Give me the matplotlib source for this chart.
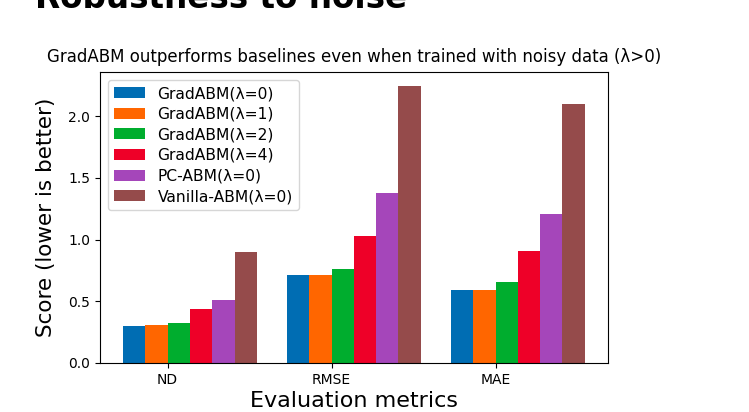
import matplotlib
matplotlib.use("Agg")
import matplotlib.pyplot as plt
import numpy as np

metrics = ["ND", "RMSE", "MAE"]
series_names = ["GradABM(λ=0)", "GradABM(λ=1)", "GradABM(λ=2)", "GradABM(λ=4)",
                "PC-ABM(λ=0)", "Vanilla-ABM(λ=0)"]
grad0 = [0.30, 0.71, 0.595]
grad1 = [0.31, 0.71, 0.595]
grad2 = [0.325, 0.76, 0.66]
grad4 = [0.435, 1.03, 0.91]
pcabm = [0.51, 1.375, 1.21]
vanilla = [0.90, 2.245, 2.10]
series_values = [grad0, grad1, grad2, grad4, pcabm, vanilla]
colors = ['#006db3', '#ff6600', '#00ad2e', '#ee0028', '#a546ba', '#954b4b']

fig = plt.figure(figsize=(7.49, 4.12), dpi=100)
ax = fig.add_axes([0.1335, 0.119, 0.678, 0.706])

x = np.arange(len(metrics))
w = 0.136
for i, (name, vals) in enumerate(zip(series_names, series_values)):
    ax.bar(x + (i - 1.5) * w, vals, w, label=name, color=colors[i])

ax.set_xticks(x)
ax.set_xticklabels(metrics, fontsize=10)
ax.tick_params(axis='y', labelsize=10)
ax.set_yticks([0.0, 0.5, 1.0, 1.5, 2.0])
ax.set_xlabel("Evaluation metrics", fontsize=16, labelpad=3)
ax.set_ylabel("Score (lower is better)", fontsize=15.5, labelpad=9)
ax.set_title("GradABM outperforms baselines even when trained with noisy data (λ>0)",
             fontsize=12, pad=7)
ax.legend(loc='upper left', fontsize=11.2, labelspacing=0.36)

fig.text(35 / 749, 1 - 8 / 412, "Robustness to noise", fontsize=23.5,
         fontweight='bold', va='baseline', ha='left')

fig.savefig("out.png", dpi=100)
